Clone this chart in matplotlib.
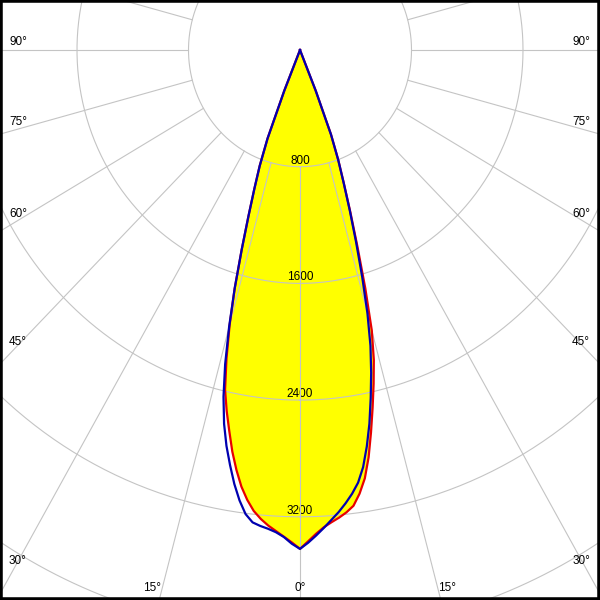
import numpy as np
import matplotlib
matplotlib.use("Agg")
import matplotlib.pyplot as plt

# Light distribution curve, two planes (red filled, blue outline)
angles = [0, 1, 2, 3, 4, 5, 6, 7, 8, 9, 10, 11, 12, 13, 14, 15, 16, 17, 18, 19, 20, 21, 22, 23,
          30, 45, 60, 75, 90]
red_left = [3420, 3376, 3338, 3302, 3268, 3227, 3177, 3107, 3022, 2915, 2796, 2660, 2530, 2390,
            2180, 1950, 1700, 1430, 1195, 1005, 846, 648, 300, 0, 0, 0, 0, 0, 0]
red_right = [3420, 3368, 3318, 3276, 3245, 3218, 3187, 3148, 3071, 2973, 2835, 2670, 2506, 2348,
             2190, 1990, 1700, 1410, 1170, 965, 804, 622, 302, 0, 0, 0, 0, 0, 0]
blue_left = [3420, 3385, 3340, 3310, 3290, 3275, 3256, 3205, 3118, 3012, 2890, 2765, 2620, 2440,
             2220, 1965, 1700, 1430, 1195, 1005, 845, 650, 300, 0, 0, 0, 0, 0, 0]
blue_right = [3420, 3378, 3330, 3280, 3229, 3180, 3125, 3065, 2995, 2895, 2760, 2610, 2440, 2270,
              2090, 1870, 1620, 1375, 1155, 960, 800, 620, 300, 0, 0, 0, 0, 0, 0]

rings = [800, 1600, 2400, 3200, 4000, 4800]
ring_labels = ["800", "1600", "2400", "3200"]
spokes = np.arange(-180, 180, 15)

# angle labels: (text, x px, y px, ha)
angle_labels = [
    ("90°", 9, 42, "left"), ("75°", 9, 122, "left"), ("60°", 9, 214, "left"),
    ("45°", 9, 342, "left"), ("30°", 9, 561, "left"), ("15°", 152, 588, "center"),
    ("0°", 300, 588, "center"), ("15°", 447, 588, "center"),
    ("30°", 590, 561, "right"), ("45°", 590, 342, "right"), ("60°", 590, 214, "right"),
    ("75°", 590, 122, "right"), ("90°", 590, 42, "right"),
]


def to_xy(theta_deg, r):
    t = np.radians(np.asarray(theta_deg, dtype=float))
    r = np.asarray(r, dtype=float)
    return r * np.sin(t), -r * np.cos(t)


def full_curve(left, right):
    a = np.asarray(angles, dtype=float)
    th = np.concatenate([-a[::-1], a[1:]])
    rr = np.concatenate([np.asarray(left)[::-1], np.asarray(right)[1:]])
    return to_xy(th, rr)


plt.rcParams['font.family'] = ['Liberation Sans', 'DejaVu Sans']

fig = plt.figure(figsize=(6, 6), dpi=100)
ax = fig.add_axes([0, 0, 1, 1])

# pixel scales (px per cd), slightly different horizontally and vertically
sx, sy = 111.5 / 800, 116.7 / 800
ax.set_xlim(-300 / sx, 300 / sx)
ax.set_ylim(-550 / sy, 50 / sy)
ax.set_xticks([])
ax.set_yticks([])

grid_col = "#c4c4c4"

# filled red plane
xr, yr = full_curve(red_left, red_right)
ax.fill(xr, yr, color="#ffff00", lw=0, zorder=1)

# rings
t = np.linspace(0, 360, 721)
for r in rings:
    x, y = to_xy(t, np.full_like(t, r))
    ax.plot(x, y, color=grid_col, lw=0.8, zorder=3)

# spokes start at the first ring
for a in spokes:
    x, y = to_xy([a, a], [rings[0], 8000])
    ax.plot(x, y, color=grid_col, lw=0.8, zorder=3)

for lab, r in zip(ring_labels, rings):
    ax.annotate(lab, xy=(0, -r), xytext=(0, 2.2), textcoords="offset points",
                ha="center", va="baseline", fontsize=8.5, color="black", zorder=2)

ax.plot(xr, yr, color="#e80000", lw=1.6, zorder=4, solid_joinstyle="round")
xb, yb = full_curve(blue_left, blue_right)
ax.plot(xb, yb, color="#0000b0", lw=1.6, zorder=5, solid_joinstyle="round")

for txt, px, py, ha in angle_labels:
    fig.text(px / 600, 1 - py / 600, txt, ha=ha, va="center", fontsize=8.5, color="black")

for s in ax.spines.values():
    s.set_visible(True)
    s.set_color("black")
    s.set_linewidth(4)
    s.set_zorder(10)

fig.savefig("out.png", dpi=100, facecolor="white")
